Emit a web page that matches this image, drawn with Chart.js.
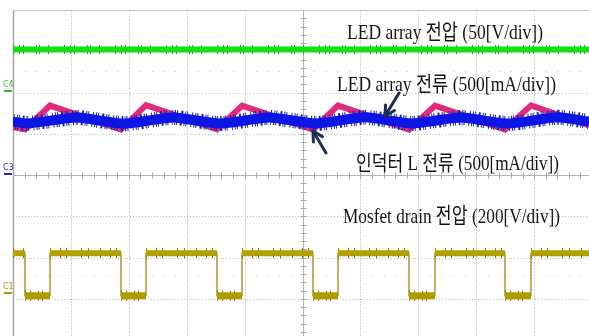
<!DOCTYPE html>
<html>
<head>
<meta charset="utf-8">
<script src="https://cdn.jsdelivr.net/npm/chart.js@4.4.1/dist/chart.umd.min.js"></script>
<style>
  html, body { margin: 0; padding: 0; background: #ffffff; overflow: hidden; }
  canvas { display: block; }
</style>
</head>
<body>
<canvas id="scope" width="589" height="336"></canvas>
<script>
// ---- Screen geometry (in divisions): 10 x 8 graticule, right and bottom edges cut off ----
const X_MIN = 0, X_MAX = 9.948;
const Y_MIN = -3.903, Y_MAX = 4;

// ---- Channel settings: ground offset (div from centre) and sensitivity ----
const ch4 = { name: 'C4', offset: 2.04, perDiv: 50, color: '#2fbf2f' };    // LED array voltage [V/div]
const ch3 = { name: 'C3', offset: 0.02, perDiv: 500, color: '#2a2ab8' };   // currents [mA/div]
const ch1 = { name: 'C1', offset: -2.86, perDiv: 200, color: '#a89814' };  // MOSFET drain [V/div]

// ---- LED array voltage [V] ----
const ledVoltageT = [0, 9.948];
const ledVoltageV = [50, 50];

// ---- Inductor L current [mA] ----
const inductorT = [0, 0.207, 0.639, 1.865, 2.297, 3.523, 3.955, 5.181, 5.613, 6.839, 7.288, 8.497, 8.946, 9.948];
const inductorI = [572, 542, 832, 540, 836, 543, 830, 542, 832, 541, 830, 542, 834, 591];

// ---- LED array current [mA] ----
const ledCurrentT = [0, 0.259, 1.105, 1.917, 2.763, 3.575, 4.421, 5.233, 6.079, 6.891, 7.737, 8.549, 9.396, 9.948];
const ledCurrentI = [637, 614, 687, 612, 688, 613, 688, 614, 689, 615, 686, 613, 690, 638];

// ---- MOSFET drain voltage: switching instants [div] and levels [V] ----
const drainFallT = [0.207, 1.865, 3.523, 5.181, 6.839, 8.497];
const drainRiseT = [0.639, 2.297, 3.955, 5.613, 7.288, 8.946];
const drainHighV = 193;
const drainLowV = -14;

// ---- Annotation texts ----
const traceLabels = [
  'LED array 전압 (50[V/div])',
  'LED array 전류 (500[mA/div])',
  '인덕터 L 전류 (500[mA/div])',
  'Mosfet drain 전압 (200[V/div])'
];

// value -> screen divisions for a channel
const toDiv = (ch, v) => ch.offset + v / ch.perDiv;
const series = (ts, vs, ch) => ts.map((t, i) => ({ x: t, y: toDiv(ch, vs[i]) }));

const greenPts = series(ledVoltageT, ledVoltageV, ch4);
const pinkPts = series(inductorT, inductorI, ch3);
const bluePts = series(ledCurrentT, ledCurrentI, ch3);

const hi = toDiv(ch1, drainHighV);
const lo = toDiv(ch1, drainLowV);

// thin square-wave outline (carries the vertical edges)
const drainEdge = [{ x: X_MIN, y: hi }];
drainFallT.forEach((f, i) => {
  const r = drainRiseT[i];
  drainEdge.push({ x: f, y: hi }, { x: f, y: lo }, { x: r, y: lo }, { x: r, y: hi });
});
drainEdge.push({ x: X_MAX, y: hi });

// thick horizontal runs of the square wave, split with gaps
const drainHighRuns = [];
let runStart = X_MIN;
drainFallT.forEach((f, i) => {
  drainHighRuns.push({ x: runStart, y: hi }, { x: f, y: hi }, { x: f, y: null });
  runStart = drainRiseT[i];
});
drainHighRuns.push({ x: runStart, y: hi }, { x: X_MAX, y: hi });

const drainLowRuns = [];
drainFallT.forEach((f, i) => {
  drainLowRuns.push({ x: f, y: lo }, { x: drainRiseT[i], y: lo }, { x: drainRiseT[i], y: null });
});

// common look of a trace
function trace(data, color, width, order, extra) {
  return Object.assign({
    data, borderColor: color, borderWidth: width, order,
    pointRadius: 0, fill: false, tension: 0, spanGaps: false,
    borderCapStyle: 'butt', borderJoinStyle: 'round', clip: 0
  }, extra || {});
}

// graticule drawn under the traces
const graticule = {
  id: 'graticule',
  beforeDatasetsDraw(chart) {
    const { ctx, chartArea: a, scales: { x, y } } = chart;
    ctx.save();
    ctx.lineWidth = 1;
    // vertical division lines
    for (let d = 1; d <= 9; d++) {
      if (d === 5) continue;
      const px = Math.round(x.getPixelForValue(d)) + 0.5;
      ctx.strokeStyle = '#d2d2d2';
      ctx.setLineDash([2, 1]);
      ctx.beginPath(); ctx.moveTo(px, a.top); ctx.lineTo(px, a.bottom); ctx.stroke();
    }
    // horizontal division lines (dotted)
    for (let d = -3; d <= 3; d++) {
      if (d === 0) continue;
      const py = Math.round(y.getPixelForValue(d)) + 0.5;
      ctx.strokeStyle = '#b8b8b8';
      ctx.setLineDash([1, 2]);
      ctx.beginPath(); ctx.moveTo(a.left, py); ctx.lineTo(a.right, py); ctx.stroke();
    }
    // faint sub-division dot rows
    ctx.fillStyle = '#cfcfcf';
    [2.53, -2.45].forEach(v => {
      const py = Math.round(y.getPixelForValue(v));
      for (let d = 0; d <= 10; d += 0.2) {
        if (Math.abs(d - Math.round(d)) < 0.01) continue;
        ctx.fillRect(Math.round(x.getPixelForValue(d)), py, 1, 1);
      }
    });
    ctx.setLineDash([]);
    // centre cross with minor ticks
    const cx = Math.round(x.getPixelForValue(5)) + 0.5;
    const cy = Math.round(y.getPixelForValue(0)) + 0.5;
    ctx.strokeStyle = '#b4b4b4';
    ctx.beginPath(); ctx.moveTo(cx, a.top); ctx.lineTo(cx, a.bottom); ctx.stroke();
    ctx.beginPath(); ctx.moveTo(a.left, cy); ctx.lineTo(a.right, cy); ctx.stroke();
    ctx.strokeStyle = '#a8a8a8';
    for (let d = 0.2; d < 10; d += 0.2) {
      const px = Math.round(x.getPixelForValue(d)) + 0.5;
      ctx.beginPath(); ctx.moveTo(px, cy - 3); ctx.lineTo(px, cy + 3); ctx.stroke();
    }
    for (let d = -4; d < 4; d += 0.2) {
      const py = Math.round(y.getPixelForValue(d)) + 0.5;
      ctx.beginPath(); ctx.moveTo(cx - 3, py); ctx.lineTo(cx + 3, py); ctx.stroke();
    }
    // frame: left and top
    ctx.strokeStyle = '#a6a6a6';
    ctx.lineWidth = 1.5;
    ctx.beginPath(); ctx.moveTo(a.left + 0.5, a.top); ctx.lineTo(a.left + 0.5, a.bottom); ctx.stroke();
    ctx.strokeStyle = '#c4c4c4';
    ctx.lineWidth = 1;
    ctx.beginPath(); ctx.moveTo(a.left, a.top + 0.5); ctx.lineTo(a.right, a.top + 0.5); ctx.stroke();
    ctx.restore();
  }
};

// texts, arrows and channel ground markers
const overlay = {
  id: 'overlay',
  afterDatasetsDraw(chart) {
    const { ctx, chartArea: a, scales: { x, y } } = chart;
    ctx.save();

    // labels placed by left/right edge (div) and baseline (div)
    const place = [
      { l: 5.769, r: 9.154, b: 3.297, size: 21 },
      { l: 5.596, r: 9.378, b: 2.036, size: 21 },
      { l: 5.924, r: 9.430, b: 0.121, size: 21 },
      { l: 5.699, r: 9.447, b: -1.164, size: 22 }
    ];
    ctx.fillStyle = '#141414';
    ctx.textBaseline = 'alphabetic';
    traceLabels.forEach((t, i) => {
      const p = place[i];
      ctx.font = p.size + 'px "Liberation Serif", "Noto Sans CJK KR", serif';
      const w = ctx.measureText(t).width;
      const L = x.getPixelForValue(p.l), R = x.getPixelForValue(p.r);
      ctx.save();
      ctx.translate(L, y.getPixelForValue(p.b));
      ctx.scale((R - L) / w, 1);
      ctx.fillText(t, 0, 0);
      ctx.restore();
    });

    // arrows: tail -> tip in divisions
    const arrows = [
      { tx: 6.667, ty: 1.988, hx: 6.425, hy: 1.430 },
      { tx: 5.406, ty: 0.533, hx: 5.181, hy: 1.067 }
    ];
    ctx.strokeStyle = '#1f2b4f';
    ctx.lineWidth = 3;
    ctx.lineCap = 'round';
    ctx.lineJoin = 'round';
    arrows.forEach(ar => {
      const x0 = x.getPixelForValue(ar.tx), y0 = y.getPixelForValue(ar.ty);
      const x1 = x.getPixelForValue(ar.hx), y1 = y.getPixelForValue(ar.hy);
      const ang = Math.atan2(y1 - y0, x1 - x0);
      ctx.beginPath(); ctx.moveTo(x0, y0); ctx.lineTo(x1, y1); ctx.stroke();
      ctx.beginPath();
      ctx.moveTo(x1 - 11 * Math.cos(ang - 0.5), y1 - 11 * Math.sin(ang - 0.5));
      ctx.lineTo(x1, y1);
      ctx.lineTo(x1 - 11 * Math.cos(ang + 0.5), y1 - 11 * Math.sin(ang + 0.5));
      ctx.stroke();
    });

    // channel ground markers at the left edge
    ctx.lineCap = 'butt';
    ctx.font = '8px "DejaVu Sans", sans-serif';
    ctx.textBaseline = 'bottom';
    [ch4, ch3, ch1].forEach(ch => {
      const py = Math.round(y.getPixelForValue(ch.offset));
      ctx.fillStyle = ch.color;
      ctx.fillRect(a.left - 9, py - 1, 8, 2);
      ctx.fillText(ch.name, a.left - 10, py - 2);
    });
    ctx.restore();
  }
};

new Chart(document.getElementById('scope'), {
  type: 'line',
  data: {
    datasets: [
      // LED array current
      trace(bluePts, '#0b16e4', 10, 0, { tension: 0.2 }),
      trace(bluePts, '#1a24a8', 15, 1, { tension: 0.2, borderDash: [1, 2, 1, 1, 1, 3, 2, 2, 1, 1, 1, 4] }),
      // inductor current
      trace(pinkPts, '#e22a7c', 6, 2, { borderJoinStyle: 'miter' }),
      // LED array voltage
      trace(greenPts, '#12e012', 6, 3),
      trace(greenPts, '#3d8f3d', 9, 4, { borderDash: [1, 5, 1, 3, 1, 12, 1, 2, 1, 8, 1, 15] }),
      // MOSFET drain voltage
      trace(drainHighRuns, '#b3a100', 6, 5),
      trace(drainLowRuns, '#ad9c00', 7, 5),
      trace(drainHighRuns, '#7f7100', 10, 6, { borderDash: [1, 9, 1, 5, 1, 14, 1, 6, 1, 11] }),
      trace(drainLowRuns, '#7f7100', 10, 6, { borderDash: [1, 4, 1, 7, 1, 3, 1, 9] }),
      trace(drainEdge, '#8f8000', 1.2, 7)
    ]
  },
  options: {
    responsive: false,
    animation: false,
    devicePixelRatio: 1,
    events: [],
    layout: { padding: { left: 13, top: 10, right: 0, bottom: 0 } },
    plugins: { legend: { display: false }, tooltip: { enabled: false } },
    scales: {
      x: { type: 'linear', min: X_MIN, max: X_MAX, display: false },
      y: { type: 'linear', min: Y_MIN, max: Y_MAX, display: false }
    }
  },
  plugins: [graticule, overlay]
});
</script>
</body>
</html>
